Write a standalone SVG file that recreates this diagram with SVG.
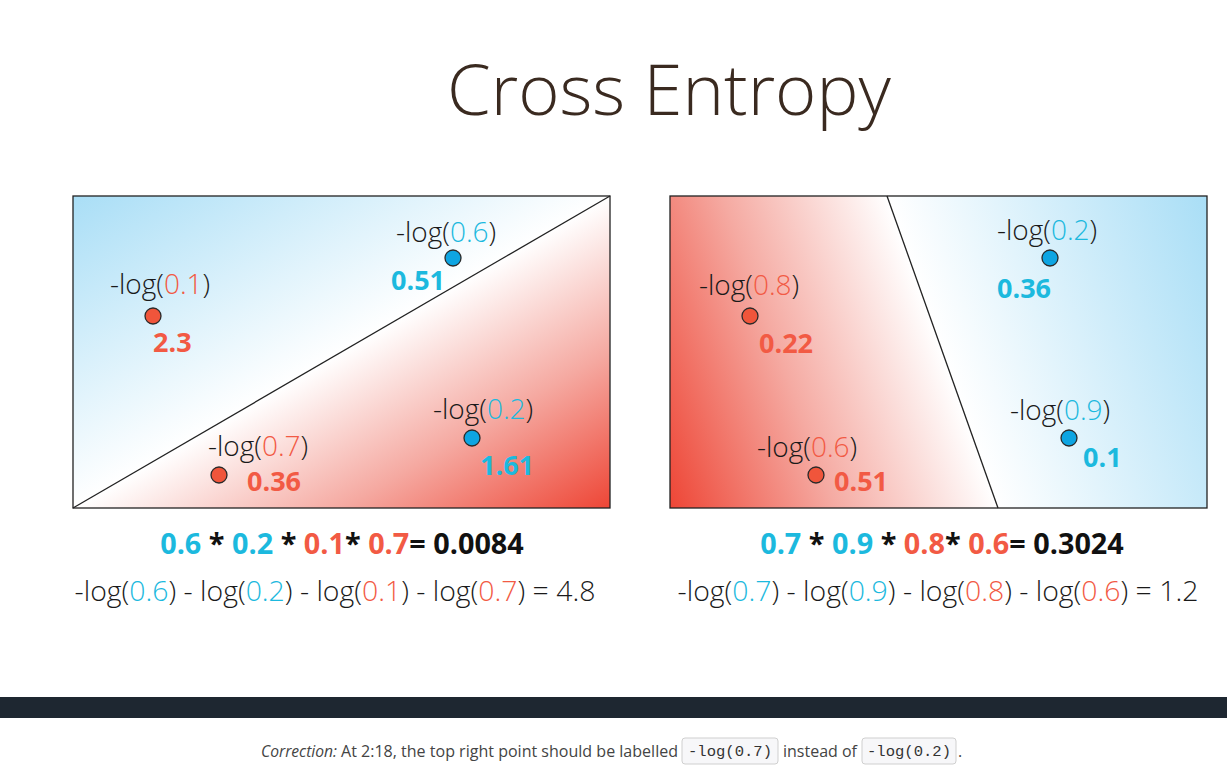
<svg xmlns="http://www.w3.org/2000/svg" width="1227" height="772" viewBox="0 0 1227 772">
<defs>
<linearGradient id="gLB" gradientUnits="userSpaceOnUse" x1="73" y1="196" x2="208" y2="429">
<stop offset="0" stop-color="#a9def6"/><stop offset="1" stop-color="#ffffff"/>
</linearGradient>
<linearGradient id="gLR" gradientUnits="userSpaceOnUse" x1="474" y1="275" x2="610" y2="508">
<stop offset="0" stop-color="#ffffff"/><stop offset="0.5" stop-color="#f5a9a1"/><stop offset="1" stop-color="#ee4636"/>
</linearGradient>
<linearGradient id="gRR" gradientUnits="userSpaceOnUse" x1="961" y1="404" x2="670" y2="508">
<stop offset="0" stop-color="#ffffff"/><stop offset="0.5" stop-color="#f5aaa2"/><stop offset="1" stop-color="#ee4636"/>
</linearGradient>
<linearGradient id="gRB" gradientUnits="userSpaceOnUse" x1="923" y1="297" x2="1207" y2="196">
<stop offset="0" stop-color="#ffffff"/><stop offset="1" stop-color="#a9def6"/>
</linearGradient>
<style>
.lbl{font-family:"Open Sans","Noto Sans",sans-serif;font-weight:300;font-size:28px;fill:#1a1a1a}
.num{font-family:"Open Sans","Noto Sans",sans-serif;font-weight:700;font-size:27px}
.eq1{font-size:28.8px}
.eq2{font-size:28.4px}
.b{fill:#1cb9de}
.r{fill:#f25a44}
.k{fill:#111}
.ptB{fill:#0ea5e2;stroke:#2a2a2a;stroke-width:1.3}
.ptR{fill:#f0553b;stroke:#2a2a2a;stroke-width:1.3}
.frame{fill:none;stroke:#222;stroke-width:1.3}
.sep{stroke:#222;stroke-width:1.3;fill:none}
.cap{font-family:"Open Sans","Noto Sans",sans-serif;font-size:16px;fill:#444}
.code{font-family:"Liberation Mono",monospace;font-size:15px;fill:#333}
.cbox{fill:#f7f7f9;stroke:#cfcfcf;stroke-width:1}
</style>
</defs>
<rect x="0" y="0" width="1227" height="772" fill="#ffffff"/>
<text x="447" y="115" font-family="'Open Sans','Noto Sans',sans-serif" font-weight="300" font-size="70.5" fill="#3a2a20">Cross Entropy</text>

<!-- Panels -->
<g id="left-panel">
<polygon points="73,196 610,196 73,508" fill="url(#gLB)"/>
<polygon points="610,196 610,508 73,508" fill="url(#gLR)"/>
<rect class="frame" x="73" y="196" width="537" height="312"/>
</g>
<g id="right-panel">
<polygon points="670,196 887,196 998,508 670,508" fill="url(#gRR)"/>
<polygon points="887,196 1207,196 1207,508 998,508" fill="url(#gRB)"/>
<rect class="frame" x="670" y="196" width="537" height="312"/>
</g>
<g id="connectors">
<line class="sep" x1="73" y1="508" x2="610" y2="196"/>
<line class="sep" x1="887" y1="196" x2="998" y2="508"/>
</g>

<g id="L-p01">
<text class="lbl" x="110" y="294">-log(<tspan class="r">0.1</tspan>)</text>
<circle class="ptR" cx="153" cy="316" r="8"/>
<text class="num r" x="153" y="352">2.3</text>
</g>
<g id="L-p06">
<text class="lbl" x="396" y="242">-log(<tspan class="b">0.6</tspan>)</text>
<circle class="ptB" cx="453" cy="258" r="8"/>
<text class="num b" x="391" y="290">0.51</text>
</g>
<g id="L-p02">
<text class="lbl" x="433" y="419">-log(<tspan class="b">0.2</tspan>)</text>
<circle class="ptB" cx="472" cy="438" r="8"/>
<text class="num b" x="480" y="475">1.61</text>
</g>
<g id="L-p07">
<text class="lbl" x="208" y="456">-log(<tspan class="r">0.7</tspan>)</text>
<circle class="ptR" cx="219" cy="475" r="8"/>
<text class="num r" x="247" y="491">0.36</text>
</g>

<g id="R-p08">
<text class="lbl" x="699" y="295">-log(<tspan class="r">0.8</tspan>)</text>
<circle class="ptR" cx="750" cy="316" r="8"/>
<text class="num r" x="759" y="353">0.22</text>
</g>
<g id="R-p06">
<text class="lbl" x="757" y="457">-log(<tspan class="r">0.6</tspan>)</text>
<circle class="ptR" cx="816" cy="475" r="8"/>
<text class="num r" x="834" y="491">0.51</text>
</g>
<g id="R-p02">
<text class="lbl" x="997" y="240">-log(<tspan class="b">0.2</tspan>)</text>
<circle class="ptB" cx="1050" cy="258" r="8"/>
<text class="num b" x="997" y="298">0.36</text>
</g>
<g id="R-p09">
<text class="lbl" x="1010" y="420">-log(<tspan class="b">0.9</tspan>)</text>
<circle class="ptB" cx="1069" cy="438" r="8"/>
<text class="num b" x="1083" y="467">0.1</text>
</g>

<!-- Equations -->
<g id="eq-left">
<text class="num k eq1" x="342" y="554" text-anchor="middle"><tspan class="b">0.6</tspan> * <tspan class="b">0.2</tspan> * <tspan class="r">0.1</tspan>* <tspan class="r">0.7</tspan>= 0.0084</text>
<text class="lbl eq2" x="335" y="601" text-anchor="middle">-log(<tspan class="b">0.6</tspan>) - log(<tspan class="b">0.2</tspan>) - log(<tspan class="r">0.1</tspan>) - log(<tspan class="r">0.7</tspan>) = 4.8</text>
</g>
<g id="eq-right">
<text class="num k eq1" x="942" y="554" text-anchor="middle"><tspan class="b">0.7</tspan> * <tspan class="b">0.9</tspan> * <tspan class="r">0.8</tspan>* <tspan class="r">0.6</tspan>= 0.3024</text>
<text class="lbl eq2" x="938" y="601" text-anchor="middle">-log(<tspan class="b">0.7</tspan>) - log(<tspan class="b">0.9</tspan>) - log(<tspan class="r">0.8</tspan>) - log(<tspan class="r">0.6</tspan>) = 1.2</text>
</g>

<!-- Footer -->
<rect x="0" y="697" width="1227" height="21" fill="#1e2731"/>
<g id="correction">
<text class="cap" x="261" y="757" font-style="italic" textLength="76" lengthAdjust="spacingAndGlyphs">Correction:</text>
<text class="cap" x="341" y="757" textLength="337" lengthAdjust="spacingAndGlyphs">At 2:18, the top right point should be labelled</text>
<rect class="cbox" x="682" y="738" width="96" height="26" rx="3"/>
<text class="code" x="688" y="756" textLength="84" lengthAdjust="spacingAndGlyphs">-log(0.7)</text>
<text class="cap" x="783" y="757" textLength="74" lengthAdjust="spacingAndGlyphs">instead of</text>
<rect class="cbox" x="862" y="738" width="94" height="26" rx="3"/>
<text class="code" x="867" y="756" textLength="84" lengthAdjust="spacingAndGlyphs">-log(0.2)</text>
<text class="cap" x="958" y="757">.</text>
</g>
</svg>
